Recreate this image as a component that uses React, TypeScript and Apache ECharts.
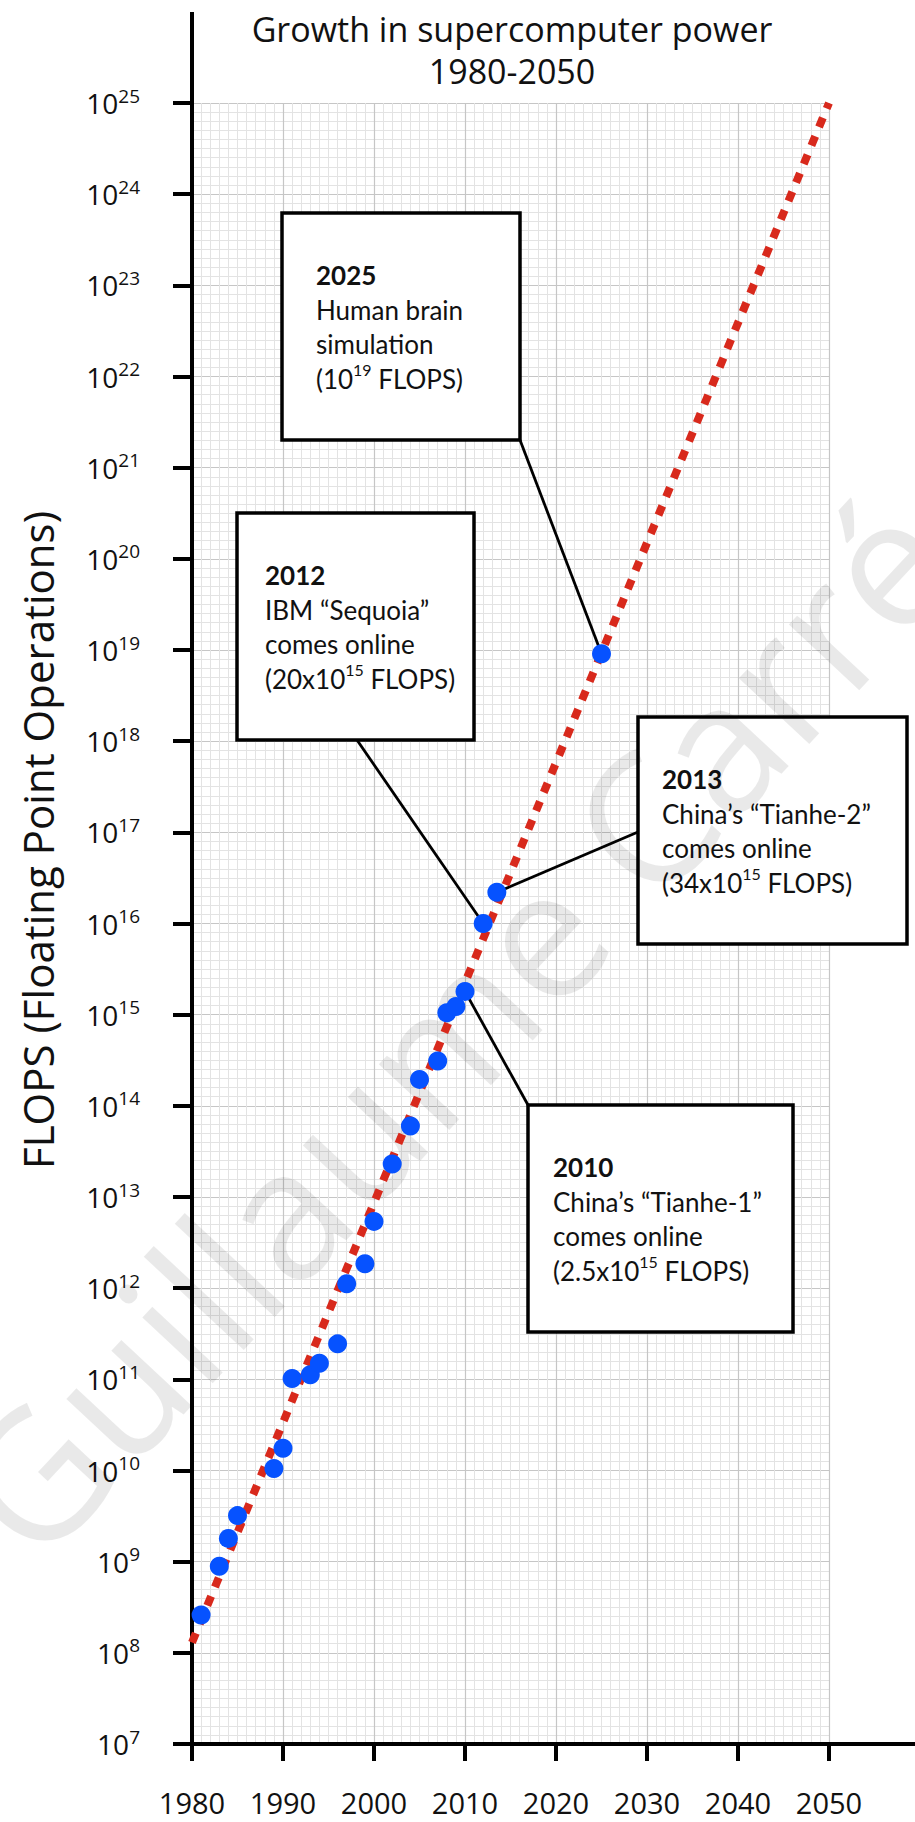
import React, { useEffect, useRef } from 'react';
import * as echarts from 'echarts';

// ---- data ----
const pointYears = [1981, 1983, 1984, 1985, 1989, 1990, 1991, 1993, 1994, 1996, 1997, 1999, 2000, 2002, 2004, 2005, 2007, 2008, 2009, 2010, 2012, 2013.5, 2025];
const pointFlops = [2.6e8, 8.9e8, 1.8e9, 3.2e9, 1.05e10, 1.75e10, 1.02e11, 1.12e11, 1.5e11, 2.45e11, 1.12e12, 1.85e12, 5.4e12, 2.3e13, 6.0e13, 1.95e14, 3.1e14, 1.05e15, 1.23e15, 1.8e15, 1.0e16, 2.2e16, 9.1e18];
const trendYears = [1980, 2050];
const trendFlops = [1.3e8, 1e25];
const xTicks = [1980, 1990, 2000, 2010, 2020, 2030, 2040, 2050];
const yExponentMin = 7;
const yExponentMax = 25;

const titleText = 'Growth in supercomputer power\n1980-2050';
const yAxisTitle = 'FLOPS (Floating Point Operations)';
const watermarkText = 'Guillaume Carré';

const noteYears = ['2025', '2012', '2013', '2010'];
const noteLines = [
  ['Human brain', 'simulation', '(10{s|19} FLOPS)'],
  ['IBM \u201cSequoia\u201d', 'comes online', '(20x10{s|15} FLOPS)'],
  ['China\u2019s \u201cTianhe-2\u201d', 'comes online', '(34x10{s|15} FLOPS)'],
  ['China\u2019s \u201cTianhe-1\u201d', 'comes online', '(2.5x10{s|15} FLOPS)'],
];
const notePointIndex = [22, 20, 21, 19];

// ---- layout (pixels) ----
const W = 915;
const H = 1822;
const GRID = { left: 192, top: 103, right: W - 829, bottom: H - 1744 };
const boxes = [
  { x: 282, y: 213, w: 238, h: 227, tx: 316, ax: 520, ay: 440 },
  { x: 237, y: 513, w: 237, h: 227, tx: 265, ax: 357, ay: 740 },
  { x: 638, y: 717, w: 269, h: 227, tx: 662, ax: 638, ay: 832 },
  { x: 528, y: 1105, w: 265, h: 227, tx: 553, ax: 528, ay: 1105 },
];

const SANS = '"Open Sans", "Noto Sans", sans-serif';
const BOX_FONT = 'Lato, "Open Sans", sans-serif';

export default function App() {
  const ref = useRef<HTMLDivElement>(null);

  useEffect(() => {
    document.body.style.margin = '0';
    if (!ref.current) return;
    const chart = echarts.init(ref.current, undefined, { renderer: 'svg' });

    const points = pointYears.map((y, i) => [y, Math.log10(pointFlops[i])]);
    const trend = trendYears.map((y, i) => [y, Math.log10(trendFlops[i])]);

    chart.setOption({
      animation: false,
      backgroundColor: '#fff',
      grid: { ...GRID, containLabel: false },
      xAxis: {
        type: 'value',
        min: xTicks[0],
        max: xTicks[xTicks.length - 1],
        interval: 10,
        axisLine: { show: true, lineStyle: { color: '#000', width: 4 } },
        axisTick: { show: true, length: 17, lineStyle: { color: '#000', width: 4 } },
        axisLabel: {
          margin: 44,
          fontSize: 29,
          fontFamily: SANS,
          color: '#111',
          formatter: (v: number) => String(v),
        },
        splitLine: { show: true, lineStyle: { color: '#c6c6c6', width: 1.2 } },
        minorTick: { show: false, splitNumber: 10 },
        minorSplitLine: { show: true, lineStyle: { color: '#e3e3e3', width: 1 } },
      },
      yAxis: {
        type: 'value',
        min: yExponentMin,
        max: yExponentMax,
        interval: 1,
        axisLine: { show: true, onZero: false, lineStyle: { color: '#000', width: 4 } },
        axisTick: { show: true, length: 19, lineStyle: { color: '#000', width: 4 } },
        axisLabel: {
          margin: 52,
          fontFamily: SANS,
          color: '#111',
          formatter: (v: number) => `{b|10}{s|${v}}`,
          rich: {
            b: { fontSize: 28, lineHeight: 34, fontFamily: SANS, color: '#111' },
            s: { fontSize: 19, lineHeight: 25, verticalAlign: 'top', fontFamily: SANS, color: '#111' },
          },
        },
        splitLine: { show: true, lineStyle: { color: '#c6c6c6', width: 1.2 } },
        minorTick: { show: false, splitNumber: 10 },
        minorSplitLine: { show: true, lineStyle: { color: '#e3e3e3', width: 1 } },
      },
      series: [
        {
          type: 'line',
          data: trend,
          showSymbol: false,
          symbol: 'none',
          clip: false,
          z: 2,
          lineStyle: { color: '#d8291c', width: 8, type: [10, 10], cap: 'butt' },
        },
        {
          type: 'scatter',
          data: points,
          symbolSize: 19,
          z: 3,
          itemStyle: { color: '#0652ff', opacity: 1 },
        },
      ],
    });

    const graphic: any[] = [];
    // axis line extensions
    graphic.push({ type: 'line', z: 1, shape: { x1: GRID.left, y1: 12, x2: GRID.left, y2: GRID.top }, style: { stroke: '#000', lineWidth: 4 } });
    graphic.push({ type: 'line', z: 1, shape: { x1: W - GRID.right, y1: H - GRID.bottom, x2: W, y2: H - GRID.bottom }, style: { stroke: '#000', lineWidth: 4 } });

    // connectors
    boxes.forEach((b, i) => {
      const p = chart.convertToPixel({ gridIndex: 0 }, points[notePointIndex[i]]) as number[];
      graphic.push({
        type: 'line', z: 1,
        shape: { x1: b.ax, y1: b.ay, x2: p[0], y2: p[1] },
        style: { stroke: '#000', lineWidth: 2.8 },
      });
    });
    // boxes + texts
    boxes.forEach((b, i) => {
      graphic.push({
        type: 'rect', z: 1,
        shape: { x: b.x, y: b.y, width: b.w, height: b.h },
        style: { fill: '#fff', stroke: '#000', lineWidth: 3.5 },
      });
      graphic.push({
        type: 'text', z: 1,
        x: b.tx, y: b.y + 45,
        style: {
          text: `{y|${noteYears[i]}}\n` + noteLines[i].join('\n'),
          fontFamily: BOX_FONT,
          fontSize: 26,
          lineHeight: 34.5,
          fill: '#111',
          textAlign: 'left',
          textVerticalAlign: 'top',
          rich: {
            y: { fontFamily: BOX_FONT, fontSize: 26, fontWeight: 'bold', lineHeight: 34.5, fill: '#111' },
            s: { fontFamily: BOX_FONT, fontSize: 16, lineHeight: 22, verticalAlign: 'top', fill: '#111' },
          },
        },
      });
    });
    // title
    graphic.push({
      type: 'text', z: 1, x: 512, y: 8,
      style: {
        text: titleText, fontFamily: SANS, fontSize: 34, lineHeight: 42,
        fill: '#111', textAlign: 'center', textVerticalAlign: 'top',
      },
    });
    // y axis title
    graphic.push({
      type: 'text', z: 1, x: 37, y: 840, rotation: Math.PI / 2,
      style: {
        text: yAxisTitle, fontFamily: SANS, fontSize: 42,
        fill: '#111', textAlign: 'center', textVerticalAlign: 'middle',
      },
    });
    // watermark
    graphic.push({
      type: 'text', z: 1.5, x: 452, y: 1025, rotation: (47 * Math.PI) / 180,
      style: {
        text: watermarkText, fontFamily: SANS, fontSize: 180, fontWeight: 'normal',
        fill: 'rgba(0,0,0,0.085)', textAlign: 'center', textVerticalAlign: 'middle',
      },
    });

    chart.setOption({ graphic });

    return () => chart.dispose();
  }, []);

  return <div ref={ref} style={{ width: W, height: H }} />;
}
